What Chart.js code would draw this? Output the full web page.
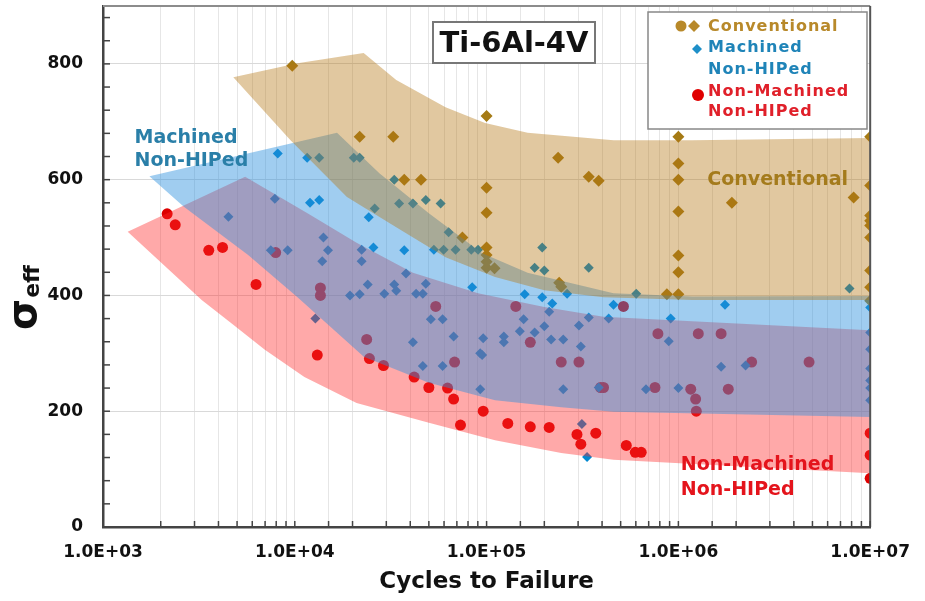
<!DOCTYPE html>
<html>
<head>
<meta charset="utf-8">
<title>Ti-6Al-4V fatigue data</title>
<script src="https://cdn.jsdelivr.net/npm/chart.js@4.4.1/dist/chart.umd.min.js"></script>
<style>
  html, body { margin: 0; padding: 0; background: #fff; }
  #wrap { width: 925px; height: 601px; }
</style>
</head>
<body>
<div id="wrap"><canvas id="fatigueChart" width="925" height="601"></canvas></div>
<script>
// DATA

var convCycles = [9700, 21800, 32600, 37200, 45500, 74800, 1e5, 1e5, 1e5, 1e5, 1e5, 1e5, 1e5, 110000,
                  236000, 341000, 384000, 239000, 245000, 871000, 1e6, 1e6, 1e6, 1e6, 1e6, 1e6, 1e6,
                  1900000, 8200000, 1e7, 1e7, 1e7, 1e7, 1e7, 1e7, 1e7, 1e7, 1e7];
var convStress = [797, 674, 674, 600, 600, 500, 710, 586, 543, 483, 470, 458, 448, 447,
                  638, 605, 598, 422, 415, 402, 674, 628, 600, 545, 469, 440, 402,
                  560, 569, 674, 590, 538, 529, 521, 500, 443, 414, 391];

var machCycles = [8150, 11600, 13400, 20300, 21800, 7870, 4510, 12000, 13400, 7500, 9180, 14100, 14900, 13900,
                  19400, 12800, 33000, 35000, 41300, 48200, 57600, 26100, 24300, 63400, 25700, 22300, 22300,
                  37200, 53100, 59700, 68900, 83200, 90300, 195000, 178000, 200000, 341000, 263000, 38000,
                  24000, 33000, 33800, 48200, 21800, 29300, 42900, 46500, 84100, 158000, 195000, 212000,
                  341000, 51200, 59000, 156000, 200000, 149000, 178000, 303000, 67300, 96000, 123000, 123000,
                  217000, 251000, 310000, 41300, 92600, 94800, 46500, 59000, 92700, 251000, 314000, 334000,
                  220000, 459000, 433000, 912000, 1750000, 891000, 2240000, 1670000, 384000, 678000, 1e6,
                  1e7, 1e7, 1e7, 1e7, 1e7, 1e7, 1e7, 7800000, 603000];
var machStress = [645, 638, 638, 638, 638, 567, 536, 560, 565, 478, 478, 500, 478, 459,
                  400, 360, 600, 559, 559, 565, 559, 550, 535, 509, 483, 479, 459,
                  478, 479, 479, 479, 479, 479, 483, 448, 443, 448, 403, 438,
                  419, 419, 408, 420, 402, 403, 403, 403, 414, 402, 397, 372,
                  362, 359, 359, 359, 347, 338, 336, 348, 329, 326, 329, 319,
                  324, 324, 312, 319, 300, 297, 278, 278, 238, 238, 178, 121,
                  386, 384, 360, 360, 384, 321, 279, 277, 241, 238, 240,
                  379, 336, 307, 274, 253, 240, 219, 412, 403];

var nonMachCycles = [2160, 2380, 3560, 4200, 6280, 7950, 13600, 13600, 13100, 23700, 24500, 29000, 41900,
                     50000, 62600, 67300, 96000, 73100, 129000, 169000, 212000, 296000, 310000, 371000,
                     535000, 596000, 640000, 54300, 142000, 68100, 169000, 245000, 303000, 393000, 517000,
                     782000, 1270000, 1670000, 2410000, 4800000, 407000, 755000, 1160000, 1230000, 1240000,
                     1820000, 1e7, 1e7, 1e7];
var nonMachStress = [541, 522, 478, 483, 419, 474, 413, 400, 297, 324, 291, 279, 259,
                     241, 240, 221, 200, 176, 179, 173, 172, 160, 143, 162,
                     141, 129, 129, 381, 381, 285, 319, 285, 285, 241, 381,
                     334, 334, 334, 285, 285, 241, 241, 238, 221, 200,
                     238, 162, 124, 84];

// scatter bands: outline, upper edge left->right then lower edge right->left
var convBandCycles = [4780, 10330, 22860, 33800, 61100, 98200, 163600, 459000, 1180000, 1e7,
                      1e7, 1180000, 407000, 200000, 110700, 61100, 33800, 18700, 9500];
var convBandStress = [777, 801, 819, 772, 725, 698, 681, 668, 668, 672,
                      392, 392, 397, 409, 432, 466, 518, 570, 668];

var machBandCycles = [1746, 16600, 27600, 50000, 94900, 163600, 459000, 1180000, 1e7,
                      1e7, 459000, 245000, 110700, 50000, 22900, 10330, 5710, 2640];
var machBandStress = [606, 681, 611, 542, 473, 439, 404, 398, 399,
                      190, 199, 207, 219, 249, 294, 397, 470, 553];

var nonMachBandCycles = [1345, 5510, 11650, 21000, 41300, 90300, 200000, 407000, 1e7,
                         1e7, 459000, 245000, 110700, 50000, 21000, 11220, 6980, 4670, 3270];
var nonMachBandStress = [510, 605, 542, 491, 439, 404, 380, 363, 340,
                         93, 116, 128, 150, 180, 214, 259, 306, 352, 392];

var yTickValues = [0, 200, 400, 600, 800];

function pts(xs, ys) {
    return xs.map(function (x, i) { return {x: x, y: ys[i]}; });
}

var FONT = '"DejaVu Sans", sans-serif';
Chart.defaults.font.family = FONT;

var GOLD = '#a57a14';
var BLUE = '#0088d0';
var RED = '#dd0000';

// texts inside the plot, placed in data coordinates
var notes = [
    {text: 'Machined', x: 1460, y: 663, color: '#2a7fa8'},
    {text: 'Non-HIPed', x: 1460, y: 624, color: '#2a7fa8'},
    {text: 'Conventional', x: 1415000, y: 591, color: '#a47b1c'},
    {text: 'Non-Machined', x: 1030000, y: 98, color: '#e4141c'},
    {text: 'Non-HIPed', x: 1030000, y: 55, color: '#e4141c'}
];

function diamond(ctx, x, y, r) {
    ctx.beginPath();
    ctx.moveTo(x, y - r); ctx.lineTo(x + r, y); ctx.lineTo(x, y + r); ctx.lineTo(x - r, y);
    ctx.closePath(); ctx.fill();
}
function dot(ctx, x, y, r) {
    ctx.beginPath(); ctx.arc(x, y, r, 0, Math.PI * 2); ctx.fill();
}

var decor = {
    id: 'decor',
    afterDatasetsDraw: function (chart) {
        var ctx = chart.ctx, a = chart.chartArea, xs = chart.scales.x, ys = chart.scales.y;
        ctx.save();
        // frame top / right
        ctx.lineWidth = 2;
        ctx.strokeStyle = '#8c8c8c';
        ctx.beginPath(); ctx.moveTo(a.left, a.top); ctx.lineTo(a.right, a.top); ctx.stroke();
        ctx.strokeStyle = '#555';
        ctx.beginPath(); ctx.moveTo(a.right, a.top); ctx.lineTo(a.right, a.bottom); ctx.stroke();
        // inner tick marks
        ctx.strokeStyle = '#444'; ctx.lineWidth = 1.5;
        ys.ticks.forEach(function (t) {
            var py = ys.getPixelForValue(t.value);
            ctx.beginPath(); ctx.moveTo(a.left, py); ctx.lineTo(a.left + 7, py); ctx.stroke();
        });
        xs.ticks.forEach(function (t) {
            var px = xs.getPixelForValue(t.value);
            ctx.beginPath(); ctx.moveTo(px, a.bottom); ctx.lineTo(px, a.bottom - 6); ctx.stroke();
        });
        // labels inside plot
        ctx.font = 'bold 19px ' + FONT;
        ctx.textAlign = 'left'; ctx.textBaseline = 'alphabetic';
        notes.forEach(function (n) {
            ctx.fillStyle = n.color;
            ctx.fillText(n.text, xs.getPixelForValue(n.x), ys.getPixelForValue(n.y));
        });
        ctx.restore();
    },
    afterDraw: function (chart) {
        var ctx = chart.ctx;
        ctx.save();
        // title box
        ctx.fillStyle = '#fff'; ctx.fillRect(433, 22, 162, 41);
        ctx.strokeStyle = '#777'; ctx.lineWidth = 2; ctx.strokeRect(433, 22, 162, 41);
        ctx.fillStyle = '#111'; ctx.font = 'bold 29px ' + FONT;
        ctx.textAlign = 'center'; ctx.textBaseline = 'middle';
        ctx.fillText('Ti-6Al-4V', 514, 44);

        // legend box
        ctx.fillStyle = '#fff'; ctx.fillRect(648, 12, 219, 117);
        ctx.strokeStyle = '#888'; ctx.lineWidth = 1.5; ctx.strokeRect(648, 12, 219, 117);
        ctx.fillStyle = '#b8892a'; dot(ctx, 681, 26, 5.5); diamond(ctx, 694, 26, 6);
        ctx.fillStyle = '#1e8fc8'; diamond(ctx, 697, 49, 5);
        ctx.fillStyle = '#e00000'; dot(ctx, 698, 95, 6);
        ctx.textAlign = 'left'; ctx.textBaseline = 'middle';
        ctx.font = 'bold 16px ' + FONT;
        if ('letterSpacing' in ctx) ctx.letterSpacing = '1px';
        ctx.fillStyle = '#b8892a'; ctx.fillText('Conventional', 708, 27);
        ctx.fillStyle = '#1f84b8'; ctx.fillText('Machined', 708, 48); ctx.fillText('Non-HIPed', 708, 70);
        ctx.fillStyle = '#e0202a'; ctx.fillText('Non-Machined', 708, 92); ctx.fillText('Non-HIPed', 708, 112);
        if ('letterSpacing' in ctx) ctx.letterSpacing = '0px';

        // y title: sigma_eff
        ctx.translate(36, 330);
        ctx.rotate(-Math.PI / 2);
        ctx.fillStyle = '#111'; ctx.textAlign = 'left'; ctx.textBaseline = 'alphabetic';
        ctx.font = 'bold 40px ' + FONT;
        ctx.fillText('σ', 0, 0);
        var w = ctx.measureText('σ').width;
        ctx.font = 'bold 22px ' + FONT;
        ctx.fillText('eff', w + 1, 3);
        ctx.restore();
    }
};

var ctx = document.getElementById('fatigueChart').getContext('2d');
var fatigueChart = new Chart(ctx, {
    type: 'scatter',
    data: {
        datasets: [
            {type: 'line', label: 'Conventional band', data: pts(convBandCycles, convBandStress),
             fill: 'shape', backgroundColor: 'rgba(180,118,18,0.4)', borderColor: 'rgba(0,0,0,0)',
             borderWidth: 0, pointRadius: 0, tension: 0, order: 1},
            {type: 'line', label: 'Machined band', data: pts(machBandCycles, machBandStress),
             fill: 'shape', backgroundColor: 'rgba(44,144,222,0.45)', borderColor: 'rgba(0,0,0,0)',
             borderWidth: 0, pointRadius: 0, tension: 0, order: 2},
            {type: 'line', label: 'Non-Machined band', data: pts(nonMachBandCycles, nonMachBandStress),
             fill: 'shape', backgroundColor: 'rgba(255,40,40,0.4)', borderColor: 'rgba(0,0,0,0)',
             borderWidth: 0, pointRadius: 0, tension: 0, order: 3},
            {label: 'Conventional', data: pts(convCycles, convStress), pointStyle: 'rectRot',
             pointRadius: 6, backgroundColor: GOLD, borderWidth: 0, order: 4},
            {label: 'Machined Non-HIPed', data: pts(machCycles, machStress), pointStyle: 'rectRot',
             pointRadius: 5, backgroundColor: BLUE, borderWidth: 0, order: 5},
            {label: 'Non-Machined Non-HIPed', data: pts(nonMachCycles, nonMachStress), pointStyle: 'circle',
             pointRadius: 5.5, backgroundColor: RED, borderWidth: 0, order: 6}
        ]
    },
    options: {
        responsive: false,
        animation: false,
        layout: {padding: {top: 6, right: 45, left: 0, bottom: 0}},
        plugins: {legend: {display: false}, tooltip: {enabled: false}},
        scales: {
            x: {
                type: 'logarithmic', min: 1000, max: 1e7,
                ticks: {
                    autoSkip: false, maxRotation: 0, minRotation: 0, padding: 15,
                    color: '#111', font: {size: 17, weight: 'bold'},
                    callback: function (v) {
                        var e = Math.log10(v);
                        if (Math.abs(e - Math.round(e)) > 1e-9) return '';
                        return '1.0E+' + String(Math.round(e)).padStart(2, '0');
                    }
                },
                grid: {color: '#e6e6e6', drawTicks: false},
                border: {color: '#444', width: 2.5},
                title: {display: true, text: 'Cycles to Failure', color: '#111',
                        font: {size: 23, weight: 'bold'}, padding: {top: 0, bottom: 5}},
                afterFit: function (s) { s.height = 74; }
            },
            y: {
                min: 0, max: 900,
                afterBuildTicks: function (s) {
                    s.ticks = [];
                    for (var v = 0; v <= 880; v += 40) s.ticks.push({value: v});
                },
                ticks: {
                    autoSkip: false, padding: 20, color: '#111', font: {size: 17, weight: 'bold'},
                    callback: function (v) { return yTickValues.indexOf(v) >= 0 ? String(v) : ''; }
                },
                grid: {
                    drawTicks: false,
                    color: function (c) {
                        return (c.tick && c.tick.value > 0 && yTickValues.indexOf(c.tick.value) >= 0) ? '#d9d9d9' : 'rgba(0,0,0,0)';
                    }
                },
                border: {color: '#444', width: 2.5},
                afterFit: function (s) { s.width = 103; s.paddingTop = 0; s.paddingBottom = 0; }
            }
        }
    },
    plugins: [decor]
});
</script>
</body>
</html>
